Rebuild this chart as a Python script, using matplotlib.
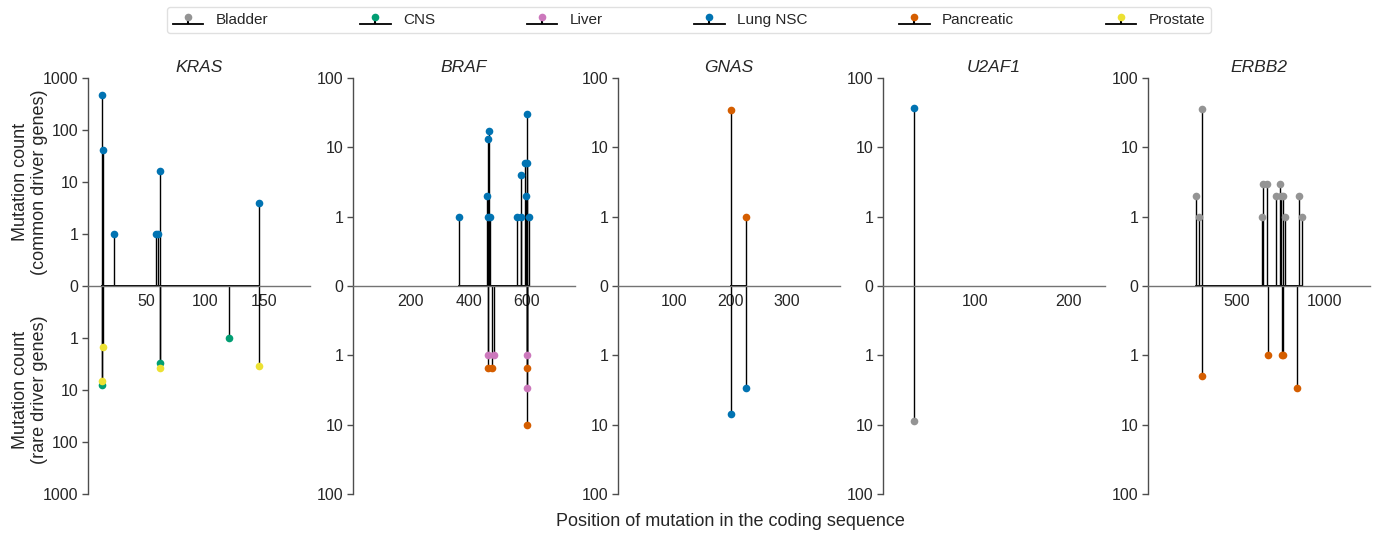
import numpy as np
import matplotlib
matplotlib.use("Agg")
import matplotlib.pyplot as plt

# gene panels: name, protein length (x range), y max
GENES = ["KRAS", "BRAF", "GNAS", "U2AF1", "ERBB2"]
GENE_LEN = [189, 766, 394, 240, 1255]
Y_MAX = [1000, 100, 100, 100, 100]
X_TICKS = [[50, 100, 150], [200, 400, 600], [100, 200, 300], [100, 200], [500, 1000]]

CANCERS = ["Bladder", "CNS", "Liver", "Lung NSC", "Pancreatic", "Prostate"]
COLORS = ["#949494", "#029e73", "#cc78bc", "#0173b2", "#d55e00", "#ece133"]

# common driver genes (upper half): cancer -> (positions, counts)
KRAS_COMMON = {"Lung NSC": ([12, 13, 22, 58, 60, 61, 146], [480, 42, 1, 1, 1, 16, 4])}
BRAF_COMMON = {"Lung NSC": ([367, 464, 466, 469, 467, 471, 565, 579, 581, 594, 597, 600, 602, 609],
                            [1, 2, 13, 17, 1, 1, 1, 4, 1, 6, 2, 30, 6, 1])}
GNAS_COMMON = {"Pancreatic": ([201, 227], [35, 1])}
U2AF1_COMMON = {"Lung NSC": ([34], [37])}
ERBB2_COMMON = {"Bladder": ([274, 287, 308, 647, 651, 673, 724, 747, 751, 766, 772, 855, 872],
                            [2, 1, 36, 1, 3, 3, 2, 3, 2, 2, 1, 2, 1])}

# rare driver genes (lower half)
KRAS_RARE = {"CNS": ([12, 61, 120], [8, 3, 1]),
             "Prostate": ([13, 12, 61, 146], [1.5, 6.6, 3.7, 3.5])}
BRAF_RARE = {"Pancreatic": ([465, 481, 600, 600], [1.5, 1.5, 1.5, 10]),
             "Liver": ([467, 485, 600, 600], [1, 1, 1, 3])}
GNAS_RARE = {"Lung NSC": ([201, 227], [7, 3])}
U2AF1_RARE = {"Bladder": ([34], [9])}
ERBB2_RARE = {"Pancreatic": ([308, 678, 755, 764, 842], [2, 1, 1, 1, 3])}

COMMON = [KRAS_COMMON, BRAF_COMMON, GNAS_COMMON, U2AF1_COMMON, ERBB2_COMMON]
RARE = [KRAS_RARE, BRAF_RARE, GNAS_RARE, U2AF1_RARE, ERBB2_RARE]


def fwd(y):
    y = np.asarray(y, dtype=float)
    a = np.abs(y)
    return np.where(a >= 1, np.sign(y) * (1 + np.log10(np.maximum(a, 1))), y)


def inv(t):
    t = np.asarray(t, dtype=float)
    a = np.abs(t)
    return np.where(a >= 1, np.sign(t) * 10 ** (np.minimum(a, 20) - 1), t)


plt.rcParams["font.family"] = ["Liberation Sans", "DejaVu Sans"]
plt.rcParams["font.size"] = 13
plt.rcParams["xtick.labelsize"] = 11.5
plt.rcParams["ytick.labelsize"] = 11.5
plt.rcParams["legend.fontsize"] = 11
plt.rcParams["text.color"] = "0.15"
plt.rcParams["xtick.color"] = "0.15"
plt.rcParams["ytick.color"] = "0.15"

fig = plt.figure(figsize=(13.78, 5.37), dpi=100)
W, H = 1378, 537
handles = {}

for i, gene in enumerate(GENES):
    left = 88 + i * 265
    ax = fig.add_axes([left / W, 43 / H, 222 / W, 416 / H])
    ax.set_yscale("function", functions=(fwd, inv))

    for side, data in ((1, COMMON[i]), (-1, RARE[i])):
        for cancer, (pos, cnt) in data.items():
            c = COLORS[CANCERS.index(cancer)]
            st = ax.stem(pos, [side * v for v in cnt], linefmt="k-", markerfmt="o", basefmt="k-")
            st.markerline.set_color(c)
            st.markerline.set_markersize(5.5)
            st.markerline.set_markeredgewidth(0)
            st.markerline.set_zorder(4)
            st.stemlines.set_linewidth(1.0)
            st.baseline.set_linewidth(1.3)
            handles.setdefault(cancer, st)

    ym = Y_MAX[i]
    ax.set_ylim(-ym, ym)
    ax.set_xlim(0, GENE_LEN[i])
    yt = [ym * 10 ** -k for k in range(int(np.log10(ym)) + 1)]
    yticks = [-v for v in yt] + [0] + yt[::-1]
    ax.set_yticks(yticks)
    ax.set_yticklabels([f"{abs(v):g}" for v in yticks])
    ax.yaxis.set_minor_locator(matplotlib.ticker.NullLocator())
    ax.set_xticks(X_TICKS[i])
    ax.tick_params(axis="x", length=0, pad=6)
    ax.tick_params(axis="y", length=4, width=1, pad=3, color="0.3")

    for s in ("top", "right"):
        ax.spines[s].set_visible(False)
    ax.spines["bottom"].set_position(("data", 0))
    ax.spines["bottom"].set_color("0.45")
    ax.spines["bottom"].set_linewidth(1)
    ax.spines["left"].set_color("0.3")
    ax.spines["left"].set_linewidth(1)
    ax.set_title(gene, style="italic", pad=4, fontsize=12.5)

    if i == 0:
        ax.text(-0.262, 0.75, "Mutation count\n(common driver genes)", transform=ax.transAxes,
                rotation=90, ha="center", va="center")
        ax.text(-0.262, 0.25, "Mutation count\n(rare driver genes)", transform=ax.transAxes,
                rotation=90, ha="center", va="center")

fig.text(730 / W, 1 - 522 / H, "Position of mutation in the coding sequence", ha="center", va="center")

leg = fig.legend([handles[c] for c in CANCERS], CANCERS, loc="upper center",
                 bbox_to_anchor=(0.5, 1 - 7 / H), borderaxespad=0, ncol=6, columnspacing=6.0,
                 frameon=True, fancybox=True, borderpad=0.4)
leg.get_frame().set_edgecolor("0.85")

fig.savefig("out.png", dpi=100)
